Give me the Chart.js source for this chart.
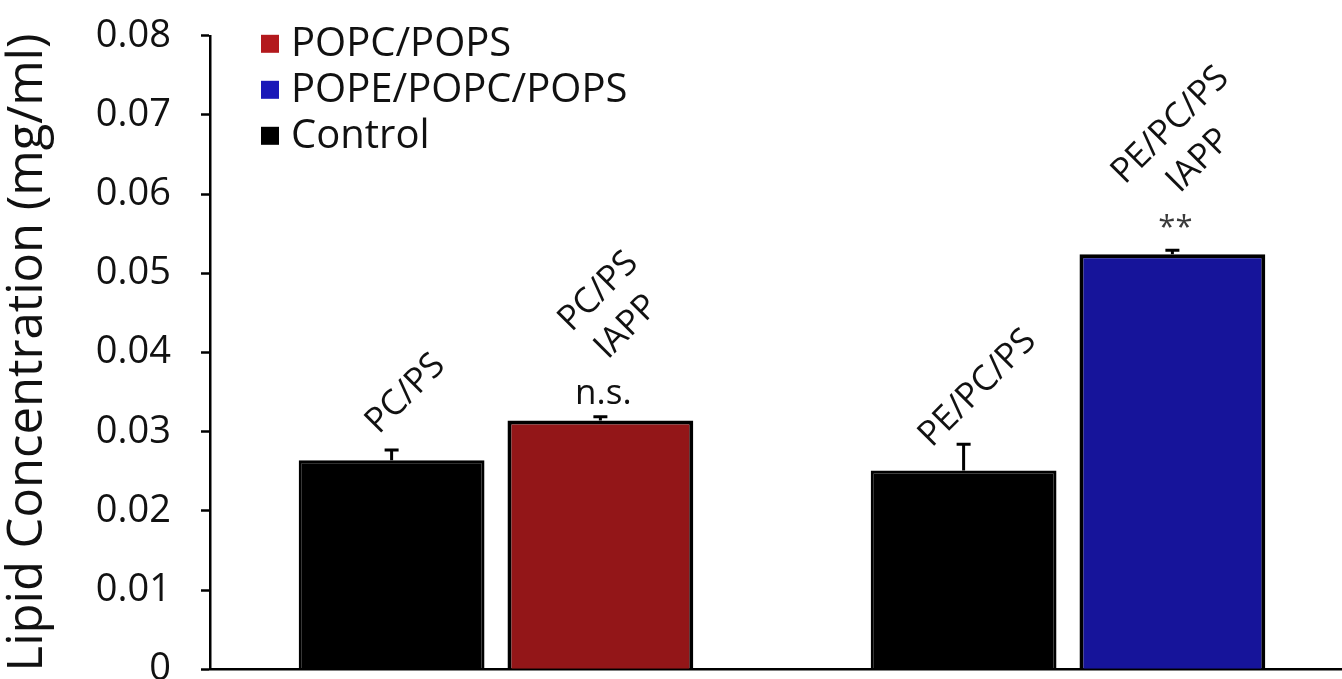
<!DOCTYPE html>
<html>
<head>
<meta charset="utf-8">
<script src="https://cdn.jsdelivr.net/npm/chart.js@4.4.1/dist/chart.umd.min.js"></script>
<style>
  html, body { margin: 0; padding: 0; background: #fff; overflow: hidden; width: 1342px; height: 679px; }
  body { position: relative; }
  #plot { position: absolute; left: 0; top: -17px; }
</style>
</head>
<body>
<canvas id="plot" width="1354" height="739"></canvas>
<script>
// Lipid systems (one group of bars each)
const categories = ['POPC/POPS', 'POPE/POPC/POPS'];

// Control bars (lipid alone)
const controlValues = [0.0264, 0.0251];
const controlErrors = [0.0013, 0.0033];
const controlNames  = [['PC/PS'], ['PE/PC/PS']];

// POPC/POPS vesicles with IAPP
const popcPopsValues = [0.0314, null];
const popcPopsErrors = [0.0005, null];
const popcPopsNames  = [['PC/PS', 'IAPP'], null];
const popcPopsMarks  = ['n.s.', null];

// POPE/POPC/POPS vesicles with IAPP
const popePopcPopsValues = [null, 0.0524];
const popePopcPopsErrors = [null, 0.0005];
const popePopcPopsNames  = [null, ['PE/PC/PS', 'IAPP']];
const popePopcPopsMarks  = [null, '**'];

// Y axis
const yTickLabels = ['0', '0.01', '0.02', '0.03', '0.04', '0.05', '0.06', '0.07', '0.08'];
const yTitle = 'Lipid Concentration (mg/ml)';

// Legend rows, top to bottom (dataset indices)
const legendOrder = [1, 2, 0];

const FONT = "'Open Sans', 'Noto Sans', sans-serif";

// Error bars, significance marks and slanted bar names
const barAnnotations = {
  id: 'barAnnotations',
  afterDatasetsDraw(chart) {
    const ctx = chart.ctx;
    const yScale = chart.scales.y;
    chart.data.datasets.forEach((ds, di) => {
      const meta = chart.getDatasetMeta(di);
      meta.data.forEach((bar, i) => {
        const v = ds.data[i];
        if (v === null || v === undefined) return;
        const x = bar.x;
        const top = yScale.getPixelForValue(v);
        const errTop = yScale.getPixelForValue(v + ds.errors[i]);

        ctx.save();
        ctx.strokeStyle = '#000';
        ctx.lineWidth = 3;
        ctx.beginPath();
        ctx.moveTo(x, top);
        ctx.lineTo(x, errTop);
        ctx.moveTo(x - 7, errTop);
        ctx.lineTo(x + 7, errTop);
        ctx.stroke();

        let labelY = errTop - 56;
        const mark = ds.marks ? ds.marks[i] : null;
        if (mark) {
          ctx.fillStyle = mark === '**' ? '#3a3a3a' : '#111';
          ctx.font = (mark === '**' ? '31px ' : '35px ') + FONT;
          ctx.textAlign = 'center';
          ctx.textBaseline = 'alphabetic';
          ctx.fillText(mark, x + 3, errTop - 13);
          labelY -= 53;
        }

        const lines = ds.names[i];
        if (lines) {
          ctx.translate(x + 14, labelY);
          ctx.rotate(-Math.PI / 4);
          ctx.fillStyle = '#111';
          ctx.font = '35px ' + FONT;
          ctx.textAlign = 'center';
          ctx.textBaseline = 'middle';
          const lh = 45;
          const n = lines.length;
          lines.forEach((t, k) => {
            ctx.fillText(t, k > 0 ? -5 : 0, (k - (n - 1) / 2) * lh);
          });
        }
        ctx.restore();
      });
    });
  }
};

// Legend drawn in the upper left of the plot area
const cornerLegend = {
  id: 'cornerLegend',
  afterDraw(chart) {
    const ctx = chart.ctx;
    const x0 = chart.chartArea.left + 51;
    const y0 = chart.chartArea.top + 8;
    const rowH = 46;
    const box = 18;
    ctx.save();
    ctx.font = '40px ' + FONT;
    ctx.textBaseline = 'middle';
    ctx.textAlign = 'left';
    legendOrder.forEach((di, r) => {
      const ds = chart.data.datasets[di];
      const cy = y0 + r * rowH;
      ctx.fillStyle = ds.swatch;
      ctx.fillRect(x0, cy - box / 2, box, box);
      ctx.fillStyle = '#111';
      ctx.fillText(ds.label, x0 + box + 12, cy + 1);
    });
    ctx.restore();
  }
};

new Chart(document.getElementById('plot'), {
  type: 'bar',
  data: {
    labels: categories,
    datasets: [
      {
        label: 'Control',
        data: controlValues,
        errors: controlErrors,
        names: controlNames,
        backgroundColor: '#000000',
        swatch: '#000000',
        borderColor: '#000000',
        borderWidth: 3,
        skipNull: true
      },
      {
        label: 'POPC/POPS',
        data: popcPopsValues,
        errors: popcPopsErrors,
        names: popcPopsNames,
        marks: popcPopsMarks,
        backgroundColor: '#931618',
        swatch: '#b3191d',
        borderColor: '#000000',
        borderWidth: 4,
        skipNull: true
      },
      {
        label: 'POPE/POPC/POPS',
        data: popePopcPopsValues,
        errors: popePopcPopsErrors,
        names: popePopcPopsNames,
        marks: popePopcPopsMarks,
        backgroundColor: '#16149a',
        swatch: '#1a18b8',
        borderColor: '#000000',
        borderWidth: 4,
        skipNull: true
      }
    ]
  },
  options: {
    responsive: false,
    devicePixelRatio: 1,
    animation: false,
    categoryPercentage: 0.73,
    barPercentage: 0.89,
    layout: { padding: 0 },
    plugins: {
      legend: { display: false },
      tooltip: { enabled: false }
    },
    scales: {
      x: {
        grid: { display: false, drawTicks: false },
        border: { display: true, color: '#000', width: 2.5 },
        ticks: { display: false }
      },
      y: {
        min: 0,
        max: 0.08,
        afterFit(scale) { scale.width = 210; },
        ticks: {
          stepSize: 0.01,
          color: '#111',
          padding: 30,
          font: { family: FONT, size: 38 },
          callback: (value, index) => yTickLabels[index]
        },
        grid: {
          display: true,
          drawOnChartArea: false,
          drawTicks: true,
          tickLength: 9,
          tickWidth: 2.5,
          tickColor: '#000'
        },
        border: { display: true, color: '#000', width: 2.5 },
        title: {
          display: true,
          text: yTitle,
          color: '#111',
          font: { family: FONT, size: 49, lineHeight: 1 },
          padding: { top: 4, bottom: 0 }
        }
      }
    }
  },
  plugins: [barAnnotations, cornerLegend]
});
</script>
</body>
</html>
